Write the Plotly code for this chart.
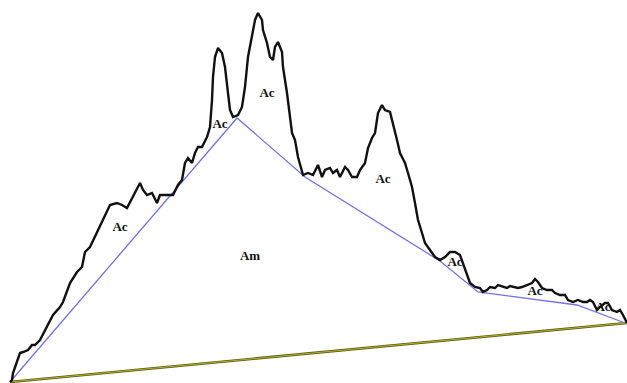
import plotly.graph_objects as go

# Diffraction profile (position, intensity)
profile_x = [10, 12, 13, 20, 23, 28, 32, 35, 40, 50, 53, 60, 63, 70, 77, 82, 85, 90, 98, 103,
             110, 117, 122, 127, 130, 135, 140, 143, 147, 152, 157, 160, 167, 173, 178, 182,
             185, 188, 192, 195, 198, 202, 207, 210, 212, 213, 215, 218, 222, 225, 228, 230,
             233, 238, 242, 245, 248, 252, 255, 258, 262, 263, 267, 270, 273, 275, 278, 282,
             283, 287, 290, 292, 295, 298, 303, 308, 313, 318, 322, 325, 330, 333, 337, 340,
             345, 348, 352, 357, 360, 365, 368, 372, 375, 378, 382, 385, 390, 393, 397, 400,
             405, 408, 412, 415, 418, 422, 425, 430, 435, 440, 445, 450, 455, 460, 463, 467,
             470, 475, 480, 483, 487, 490, 495, 498, 503, 507, 510, 515, 518, 522, 527, 532,
             535, 538, 542, 547, 552, 555, 560, 565, 568, 573, 578, 583, 587, 590, 593, 597,
             600, 605, 608, 612, 617, 620, 623, 627]
profile_y = [1, 3, 10, 30, 31, 33, 38, 38, 43, 63, 68, 76, 81, 100, 111, 116, 131, 136, 153, 163,
             178, 180, 178, 175, 181, 190, 200, 193, 188, 190, 180, 188, 188, 188, 198, 203,
             220, 225, 220, 230, 236, 236, 246, 256, 283, 306, 326, 335, 330, 316, 290, 273,
             266, 268, 276, 296, 326, 346, 363, 370, 363, 353, 340, 326, 323, 336, 341, 331,
             316, 290, 266, 250, 243, 226, 208, 210, 208, 218, 206, 213, 215, 210, 213, 206,
             216, 213, 206, 206, 213, 220, 235, 245, 250, 270, 278, 273, 271, 260, 243, 230,
             220, 210, 196, 180, 163, 150, 140, 133, 126, 123, 126, 131, 131, 128, 120, 110,
             100, 96, 95, 91, 93, 96, 95, 98, 96, 95, 97, 96, 95, 96, 98, 100,
             104, 101, 95, 93, 93, 90, 88, 88, 83, 81, 83, 81, 81, 83, 81, 73,
             76, 80, 80, 73, 71, 73, 68, 60]

# Amorphous envelope and background line
amorph_x = [10, 237, 305, 440, 478, 577, 625]
amorph_y = [1, 265, 206, 122, 91, 78, 60]
base_x = [10, 627]
base_y = [1, 60]

# Region labels
label_text = ["Ac", "Ac", "Ac", "Ac", "Ac", "Ac", "Ac", "Am"]
label_x = [120, 267, 220, 383, 455, 535, 603, 250]
label_y = [155, 289, 258, 203, 120, 91, 75, 126]

fig = go.Figure()
# background line: dark olive edge with a yellow core
fig.add_trace(go.Scatter(x=base_x, y=base_y, mode="lines",
                         line=dict(color="#5e5a10", width=2.6), hoverinfo="skip"))
fig.add_trace(go.Scatter(x=base_x, y=base_y, mode="lines",
                         line=dict(color="#b4b030", width=1.0), hoverinfo="skip"))
fig.add_trace(go.Scatter(x=amorph_x, y=amorph_y, mode="lines",
                         line=dict(color="#7272e0", width=1.3), hoverinfo="skip"))
fig.add_trace(go.Scatter(x=profile_x, y=profile_y, mode="lines",
                         line=dict(color="#111111", width=2.4, shape="linear"),
                         hoverinfo="skip"))
fig.add_trace(go.Scatter(x=label_x, y=label_y, mode="text",
                         text=["<b>" + t + "</b>" for t in label_text],
                         textfont=dict(family="Liberation Serif", size=13, color="#111111"),
                         hoverinfo="skip"))

fig.update_layout(
    width=627, height=383,
    margin=dict(l=0, r=0, t=0, b=0),
    paper_bgcolor="white", plot_bgcolor="white",
    showlegend=False,
    xaxis=dict(range=[0, 627], visible=False, fixedrange=True),
    yaxis=dict(range=[0, 383], visible=False, fixedrange=True),
)

fig.write_html("out.html")
